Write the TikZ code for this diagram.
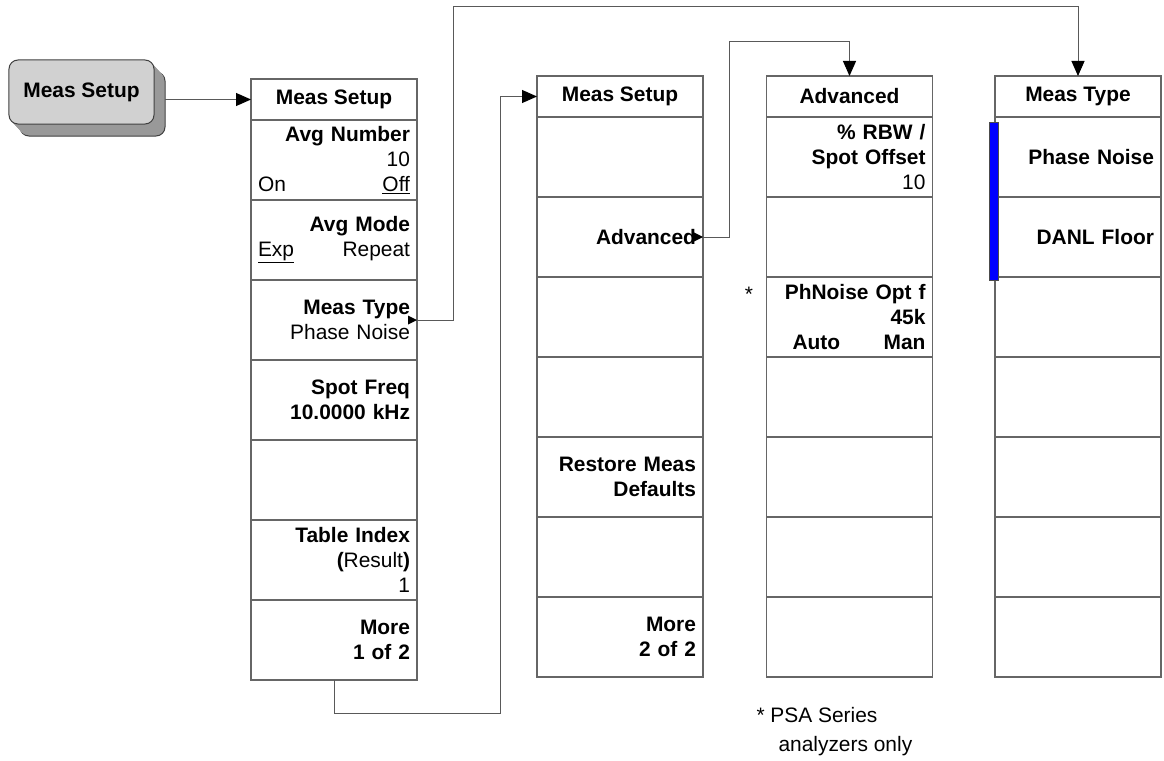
\documentclass[tikz,border=0pt]{standalone}
\usepackage{fontspec}
\setmainfont{Liberation Sans}
\usetikzlibrary{positioning,arrows.meta}
\newcommand{\regtxt}[1]{{\mdseries #1}}
\begin{document}
\begin{tikzpicture}[x=1bp,y=-1bp]
% Define styles for the menu elements
\tikzstyle{keyhead} = [rectangle, draw=black!60, line width=1.2bp, minimum width=166bp, minimum height=41bp, outer sep=0pt, inner sep=0pt, font=\fontsize{21}{25}\selectfont\bfseries]
\tikzstyle{softkey} = [rectangle, draw=black!60, line width=1.2bp, minimum width=166bp, minimum height=80bp, outer sep=0pt, inner xsep=7bp, inner ysep=0pt, text width=152bp, align=right, font=\fontsize{21}{25}\selectfont\bfseries]
\tikzstyle{frontkey} = [rectangle, rounded corners=9bp, draw=black!75, fill=black!18, line width=1bp, minimum width=145bp, minimum height=64bp, outer sep=0pt, font=\fontsize{21}{25}\selectfont\bfseries]
\tikzstyle{keyshade} = [frontkey, fill=black!40]
\tikzstyle{selbar} = [rectangle, draw=black!70, fill=blue, line width=0.8bp, minimum width=9bp, minimum height=158bp, inner sep=0pt]
\tikzstyle{conn} = [draw=black!65, line width=1bp]
\tikzstyle{link} = [conn, -{Triangle[length=15bp, width=13bp, color=black]}]
\tikzstyle{note} = [font=\fontsize{21}{29}\selectfont]

\useasboundingbox (0,0) rectangle (1164,761);

% Front panel key with its shadow
\node[keyshade] (btnback) at (92.5,104) {};
\foreach \d in {1,...,10}
  \fill[black!40, rounded corners=9bp] (9+\d,60+\d*12/11) rectangle ++(145,64);
\node[frontkey] (btn) at (81.5,92) {Meas Setup};

% First menu: Meas Setup 1 of 2
\node[keyhead] (s1head) at (334,99.5) {Meas Setup};
\node[softkey, below=0pt of s1head] (s1k1) {Avg Number\\\regtxt{10}\\\makebox[152bp]{\regtxt{On}\hfill\regtxt{\underline{Off}}}};
\node[softkey, below=0pt of s1k1] (s1k2) {Avg Mode\\\makebox[152bp]{\regtxt{\underline{Exp}}\hfill\regtxt{Repeat}}};
\node[softkey, below=0pt of s1k2] (s1k3) {Meas Type\\\regtxt{Phase Noise}};
\node[softkey, below=0pt of s1k3] (s1k4) {Spot Freq\\10.0000 kHz};
\node[softkey, below=0pt of s1k4] (s1k5) {};
\node[softkey, below=0pt of s1k5] (s1k6) {Table Index\hspace*{7bp}\\(\regtxt{Result})\\\regtxt{1}};
\node[softkey, below=0pt of s1k6] (s1k7) {More\\1 of 2};

% Second menu: Meas Setup 2 of 2
\node[keyhead] (s2head) at (620,96.5) {Meas Setup};
\node[softkey, below=0pt of s2head] (s2k1) {};
\node[softkey, below=0pt of s2k1] (s2k2) {Advanced};
\node[softkey, below=0pt of s2k2] (s2k3) {};
\node[softkey, below=0pt of s2k3] (s2k4) {};
\node[softkey, below=0pt of s2k4] (s2k5) {Restore Meas\\Defaults};
\node[softkey, below=0pt of s2k5] (s2k6) {};
\node[softkey, below=0pt of s2k6] (s2k7) {More\\2 of 2};

% Advanced menu
\node[keyhead] (advhead) at (849.5,96.5) {Advanced};
\node[softkey, below=0pt of advhead] (advk1) {\% RBW /\\Spot Offset\\\regtxt{10}};
\node[softkey, below=0pt of advk1] (advk2) {};
\node[softkey, below=0pt of advk2] (advk3) {PhNoise Opt f\\45k\\\makebox[133bp]{Auto\hfill Man}\hspace*{5bp}};
\node[softkey, below=0pt of advk3] (advk4) {};
\node[softkey, below=0pt of advk4] (advk5) {};
\node[softkey, below=0pt of advk5] (advk6) {};
\node[softkey, below=0pt of advk6] (advk7) {};

% Meas Type menu
\node[keyhead] (mthead) at (1078,96.5) {Meas Type};
\node[softkey, below=0pt of mthead] (mtk1) {Phase Noise};
\node[softkey, below=0pt of mtk1] (mtk2) {DANL Floor};
\node[softkey, below=0pt of mtk2] (mtk3) {};
\node[softkey, below=0pt of mtk3] (mtk4) {};
\node[softkey, below=0pt of mtk4] (mtk5) {};
\node[softkey, below=0pt of mtk5] (mtk6) {};
\node[softkey, below=0pt of mtk6] (mtk7) {};
\node[selbar] (sel) at (993.5,201) {};

% Connect the menus
\draw[link] (btnback.east |- s1head.west) -- (s1head.west);
\draw[link] (s1k7.south) -- ++(0,33) -- ++(166,0) |- (s2head.west);
\draw[link] (s1k3.east) -- ++(36,0) -- ++(0,-314) -| (mthead.north);
\draw[link] (s2k2.east) -- ++(26,0) -- ++(0,-196) -| (advhead.north);
\fill[black] (s1k3.east) -- ++(-9,-4.5) -- ++(0,9) -- cycle;
\fill[black] (s2k2.east) -- ++(-10,-5) -- ++(0,10) -- cycle;

% Footnote marks
\node[note] (star) at (749,294) {*};
\node[note, anchor=west, align=left] (psa) at (753,732) {* PSA Series\\\hspace*{22bp}analyzers only};
\end{tikzpicture}
\end{document}
